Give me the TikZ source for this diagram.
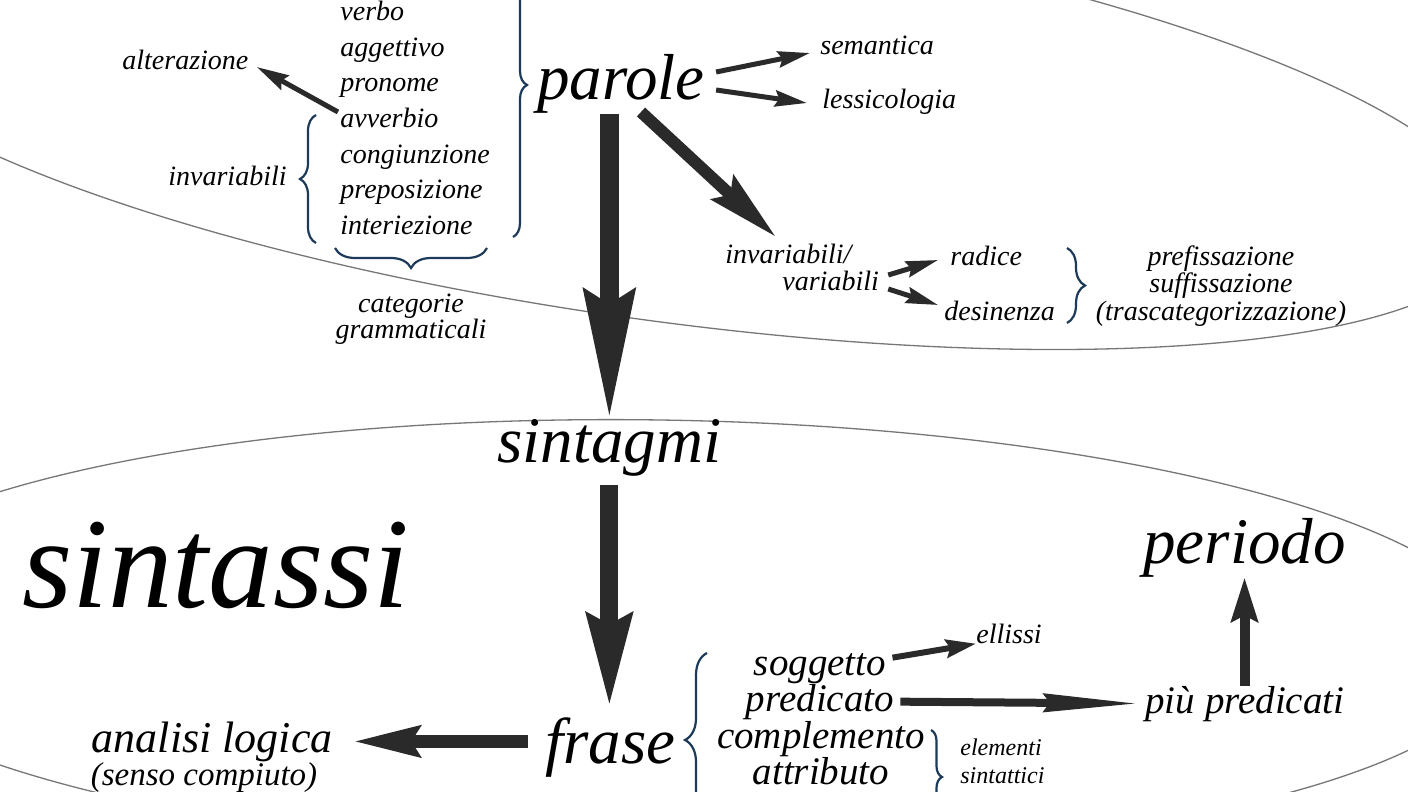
\documentclass[tikz,border=0pt]{standalone}
\usepackage{fontspec}
\setmainfont{Liberation Serif}
\usetikzlibrary{arrows.meta, positioning, decorations.pathreplacing}

\definecolor{arrowgray}{HTML}{2A2A2A}
\definecolor{bracenavy}{HTML}{1D3B58}
\definecolor{ringgray}{HTML}{777777}

\begin{document}
\begin{tikzpicture}[x=0.5pt, y=-0.5pt,
    word/.style={font=\fontsize{14pt}{13.5pt}\selectfont\itshape, inner sep=0pt},
    bigword/.style={font=\fontsize{32.5pt}{39pt}\selectfont\itshape, inner sep=0pt},
    midword/.style={font=\fontsize{19.5pt}{24pt}\selectfont\itshape, inner sep=0pt},
    ring/.style={draw=ringgray, line width=0.65pt},
    curly/.style={draw=bracenavy, line width=1.1pt, decorate, decoration={brace, amplitude=#1}},
    thinarrow/.style={draw=arrowgray, line width=2.5pt, -{Stealth[length=16pt, width=8pt, inset=2pt]}}]

    % Page and clipping
    \fill[white] (0,0) rectangle (1408,792);
    \useasboundingbox (0,0) rectangle (1408,792);
    \clip (0,0) rectangle (1408,792);

    % Draw the two domains
    \draw[ring, rotate around={-8:(656,117)}] (656,117) ellipse [x radius=422.5pt, y radius=101.25pt];
    \draw[ring, rotate around={-0.9:(659,638)}] (659,638) ellipse [x radius=423pt, y radius=109pt];

    % Words and categories
    \node[bigword, anchor=base west] (parole) at (537,100) {parole};
    \foreach \w [count=\i] in {verbo,aggettivo,pronome,avverbio,congiunzione,preposizione,interiezione}
        \node[word, anchor=base west] (cat\i) at (340,{21+35.5*(\i-1)}) {\w};
    \node[word, anchor=base west] (alter) at (122,70) {alterazione};
    \node[word, anchor=base east] (invar) at (287,185) {invariabili};
    \node[word, anchor=base, align=center, font=\fontsize{14pt}{13pt}\selectfont\itshape] (categ) at (411,338) {categorie\\grammaticali};
    \node[word, anchor=base west] (seman) at (820,55) {semantica};
    \node[word, anchor=base west] (lessi) at (822,109) {lessicologia};
    \node[word, anchor=base west, align=left] (varia) at (725,290) {invariabili/\\\hspace*{28.5pt}variabili};
    \node[word, anchor=base west] (radice) at (950,265) {radice};
    \node[word, anchor=base west] (desin) at (944,320) {desinenza};
    \node[word, anchor=base, align=center, font=\fontsize{14pt}{13.75pt}\selectfont\itshape] (affissi) at (1221,320) {prefissazione\\suffissazione\\(trascategorizzazione)};

    % Syntax
    \node[bigword, anchor=base west] (sintagmi) at (497,462) {sintagmi};
    \node[font=\fontsize{64.5pt}{70pt}\selectfont\itshape, inner sep=0pt, anchor=base west] (sintassi) at (22,607) {sintassi};
    \node[bigword, anchor=base west] (frase) at (545,763) {frase};
    \node[bigword, anchor=base west] (periodo) at (1143,563) {periodo};
    \node[font=\fontsize{22pt}{26pt}\selectfont\itshape, inner sep=0pt, anchor=base east] (analisi) at (333,752) {analisi logica};
    \node[font=\fontsize{16.5pt}{20pt}\selectfont\itshape, inner sep=0pt, anchor=base] (senso) at (204,785) {(senso compiuto)};
    \node[midword, anchor=base] (sogg) at (820,675) {soggetto};
    \node[midword, anchor=base] (pred) at (820,711) {predicato};
    \node[midword, anchor=base] (compl) at (821,748) {complemento};
    \node[midword, anchor=base] (attr) at (821,784) {attributo};
    \node[midword, anchor=base west] (piu) at (1145,713) {più predicati};
    \node[word, anchor=base west] (ellissi) at (976,643) {ellissi};
    \node[word, anchor=base west, align=left, font=\fontsize{12pt}{14pt}\selectfont\itshape] (elem) at (960,783) {elementi\\sintattici};

    % Braces
    \draw[curly=8pt] (316,243) -- (316,115);
    \draw[curly=10pt] (487,248) -- (335,248);
    \draw[curly=7pt] (513,-67) -- (513,237);
    \draw[curly=9pt] (1067,248) -- (1067,323);
    \draw[curly=11pt] (707,827) -- (707,653);
    \draw[curly=5.5pt] (931,730) -- (931,824);

    % Arrows
    \draw[thinarrow] ([shift={(-2,-15.5)}]cat4.base west) -- ([shift={(8,-3)}]alter.base east);
    \draw[thinarrow] ([shift={(11,-28)}]parole.base east) -- ([shift={(-10,-2)}]seman.base west);
    \draw[thinarrow] ([shift={(11,-10)}]parole.base east) -- ([shift={(-15,-6)}]lessi.base west);
    \draw[arrowgray, line width=9.5pt, -{Stealth[length=64pt, width=25pt, inset=7pt]}] (sintagmi.north |- parole.south) -- (sintagmi.north);
    \draw[arrowgray, line width=6pt, -{Stealth[length=36pt, width=16pt, inset=5pt]}] ([shift={(104,12)}]parole.base west) -- ([shift={(51,-53)}]varia.base west);
    \draw[thinarrow] ([shift={(9,-15)}]varia.base east) -- ([shift={(-12,-5)}]radice.base west);
    \draw[thinarrow] ([shift={(9,-1)}]varia.base east) -- ([shift={(-6,-15)}]desin.base west);
    \draw[arrowgray, line width=9pt, -{Stealth[length=46pt, width=22pt, inset=5pt]}, shorten <=4.5pt, shorten >=5pt] (sintagmi.south) -- (sintagmi.south |- frase.north);
    \draw[arrowgray, line width=6.5pt, -{Stealth[length=33pt, width=15pt, inset=4pt]}, shorten <=8.5pt, shorten >=10pt] (frase.west |- analisi.east) -- (analisi.east);
    \draw[arrowgray, line width=3pt, -{Stealth[length=15pt, width=9pt, inset=2pt]}] ([shift={(6,5)}]sogg.north east) -- (ellissi.south west);
    \draw[arrowgray, line width=4pt, -{Stealth[length=47pt, width=9pt, inset=3pt]}, shorten <=3pt, shorten >=3.5pt] (pred.east) -- (piu.west);
    \draw[arrowgray, line width=5pt, -{Stealth[length=22pt, width=13pt, inset=3pt]}] (piu.north -| periodo.south) -- (periodo.south);
\end{tikzpicture}
\end{document}
